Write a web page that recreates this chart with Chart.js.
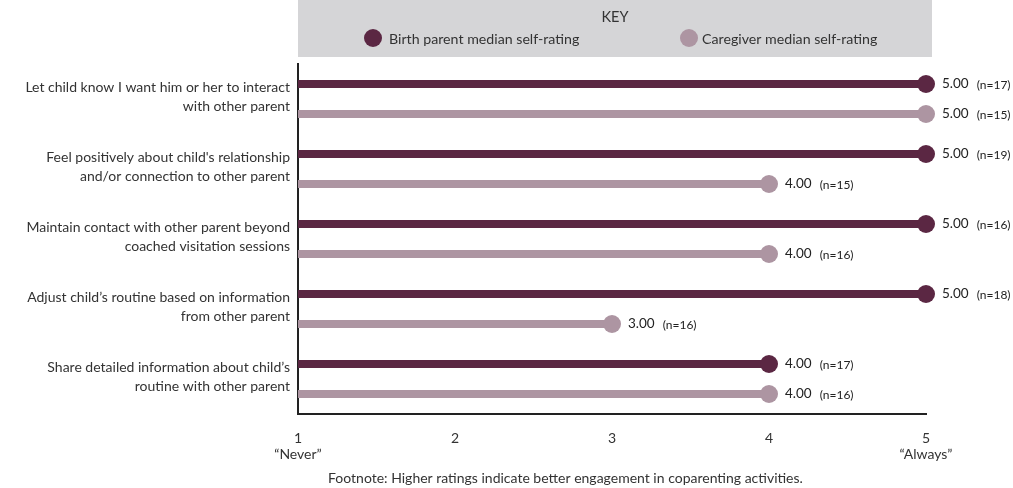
<!DOCTYPE html>
<html>
<head>
<meta charset="utf-8">
<script src="https://cdn.jsdelivr.net/npm/chart.js@4"></script>
<style>
  html, body { margin: 0; padding: 0; background: #ffffff; }
  #wrap { width: 1013px; height: 488px; position: relative; }
</style>
</head>
<body>
<div id="wrap"><canvas id="chart" width="1013" height="488"></canvas></div>
<script>
// Coparenting activities (two-line labels)
const categories = [
  ["Let child know I want him or her to interact", "with other parent"],
  ["Feel positively about child's relationship", "and/or connection to other parent"],
  ["Maintain contact with other parent beyond", "coached visitation sessions"],
  ["Adjust child\u2019s routine based on information", "from other parent"],
  ["Share detailed information about child\u2019s", "routine with other parent"]
];

// Median self-ratings (1 = "Never" ... 5 = "Always")
const birthParentMedian = [5, 5, 5, 5, 4];
const caregiverMedian = [5, 4, 4, 3, 4];

// Respondent counts
const birthParentN = [17, 19, 16, 18, 17];
const caregiverN = [15, 15, 16, 16, 16];

// Rating scale ticks
const scaleTicks = [1, 2, 3, 4, 5];
const scaleAnchors = { 1: "\u201cNever\u201d", 5: "\u201cAlways\u201d" };

const seriesNames = ["Birth parent median self-rating", "Caregiver median self-rating"];
const footnote = "Footnote: Higher ratings indicate better engagement in coparenting activities.";

const DARK = "#5b2743";
const LIGHT = "#ad95a2";
const FONT = "Lato, 'Open Sans', sans-serif";
const countsBySeries = [birthParentN, caregiverN];

// Round cap at the end of each bar plus its value label
const endCaps = {
  id: "endCaps",
  afterDatasetsDraw(chart) {
    const ctx = chart.ctx;
    chart.data.datasets.forEach((ds, di) => {
      const meta = chart.getDatasetMeta(di);
      meta.data.forEach((bar, i) => {
        ctx.save();
        ctx.fillStyle = ds.backgroundColor;
        ctx.beginPath();
        ctx.arc(bar.x, bar.y, 9, 0, Math.PI * 2);
        ctx.fill();
        ctx.fillStyle = "#222";
        ctx.textBaseline = "middle";
        ctx.textAlign = "left";
        ctx.font = "13.5px " + FONT;
        const valText = ds.data[i].toFixed(2);
        ctx.fillText(valText, bar.x + 16, bar.y);
        const w = ctx.measureText(valText).width;
        ctx.font = "12px " + FONT;
        ctx.fillText("(n=" + countsBySeries[di][i] + ")", bar.x + 16 + w + 8, bar.y + 1);
        ctx.restore();
      });
    });
  }
};

// Key box above the plot and the footnote below it
const keyAndFootnote = {
  id: "keyAndFootnote",
  afterDraw(chart) {
    const ctx = chart.ctx;
    const area = chart.chartArea;
    ctx.save();
    ctx.fillStyle = "#d5d5d7";
    ctx.fillRect(area.left, 0, 634, 57);
    ctx.fillStyle = "#333";
    ctx.font = "14.5px " + FONT;
    ctx.textAlign = "center";
    ctx.textBaseline = "middle";
    ctx.fillText("KEY", area.left + 317, 17);
    const items = [
      { cx: 373, tx: 389, color: DARK, text: chart.data.datasets[0].label },
      { cx: 689, tx: 702, color: LIGHT, text: chart.data.datasets[1].label }
    ];
    ctx.font = "14.2px " + FONT;
    ctx.textAlign = "left";
    items.forEach(it => {
      ctx.fillStyle = it.color;
      ctx.beginPath();
      ctx.arc(it.cx, 38, 9, 0, Math.PI * 2);
      ctx.fill();
      ctx.fillStyle = "#333";
      ctx.fillText(it.text, it.tx, 39);
    });
    ctx.font = "14px " + FONT;
    ctx.textAlign = "left";
    ctx.fillText(footnote, 328, 478);
    ctx.restore();
  }
};

new Chart(document.getElementById("chart"), {
  type: "bar",
  data: {
    labels: categories,
    datasets: [
      { label: seriesNames[0], data: birthParentMedian, backgroundColor: DARK, base: 1 },
      { label: seriesNames[1], data: caregiverMedian, backgroundColor: LIGHT, base: 1 }
    ]
  },
  options: {
    indexAxis: "y",
    responsive: false,
    animation: false,
    categoryPercentage: 0.857,
    barPercentage: 0.27,
    layout: { padding: { top: 64, right: 87, bottom: 0, left: 0 } },
    plugins: {
      legend: { display: false },
      tooltip: { enabled: false }
    },
    scales: {
      x: {
        min: 1,
        max: 5,
        afterBuildTicks(scale) { scale.ticks = scaleTicks.map(v => ({ value: v })); },
        afterFit(scale) { scale.height = 74; },
        grid: { display: false, drawTicks: false },
        border: { display: true, color: "#222", width: 2 },
        ticks: {
          padding: 17,
          color: "#333",
          font: { family: FONT, size: 14, lineHeight: 1.1 },
          callback: v => scaleAnchors[v] ? [String(v), scaleAnchors[v]] : String(v)
        }
      },
      y: {
        afterFit(scale) { scale.width = 298; },
        grid: { display: false, drawTicks: false },
        border: { display: true, color: "#222", width: 2 },
        ticks: {
          padding: 8,
          labelOffset: -2,
          color: "#333",
          font: { family: FONT, size: 14, lineHeight: 1.3 }
        }
      }
    }
  },
  plugins: [endCaps, keyAndFootnote]
});
</script>
</body>
</html>
